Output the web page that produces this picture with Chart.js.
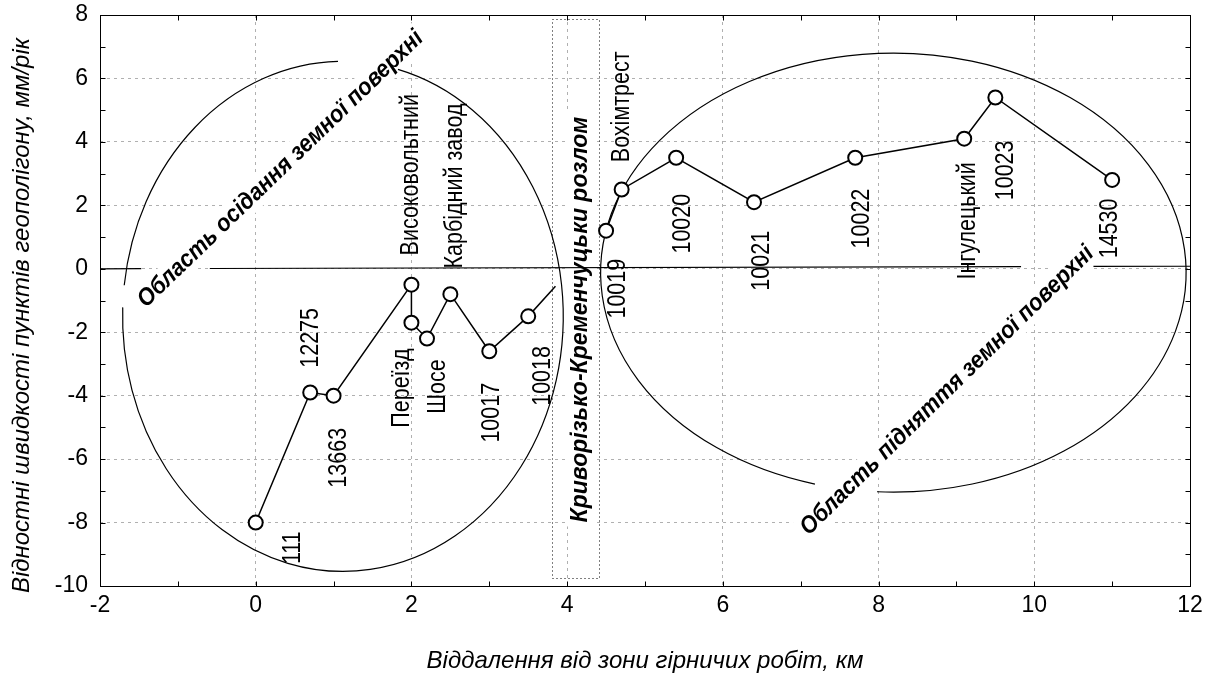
<!DOCTYPE html>
<html>
<head>
<meta charset="utf-8">
<script src="https://cdn.jsdelivr.net/npm/chart.js@4.4.1/dist/chart.umd.min.js"></script>
<style>
  html, body { margin: 0; padding: 0; background: #ffffff; }
  #wrap { width: 1215px; height: 680px; }
</style>
</head>
<body>
<div id="wrap"><canvas id="c" width="1215" height="680"></canvas></div>
<script>
// ---- data ----
const subsidenceX = [0, 0.7, 1, 2, 2, 2.2, 2.5, 3, 3.5, 3.85];
const subsidenceY = [-8, -3.9, -4, -0.5, -1.7, -2.2, -0.8, -2.6, -1.5, -0.55];
const upliftX = [4.5, 4.7, 5.4, 6.4, 7.7, 9.1, 9.5, 11];
const upliftY = [1.2, 2.5, 3.5, 2.1, 3.5, 4.1, 5.4, 2.8];

// near-zero reference line (segments separated by gaps)
const zeroLineX = [-2, -1.47, -1.0, -0.59, 9.83, 10.3, 10.76, 12];
const zeroLineY = [0, 0.003, null, 0.008, 0.068, null, 0.073, 0.08];

// station names (rotated), anchored at the start of the text in data units
const stationNames = ['111', '12275', '13663', 'Переїзд', 'Шосе', 'Високовольтний', 'Карбідний завод',
  '10017', '10018', '10019', 'Вохімтрест', '10020', '10021', '10022', 'Інгулецький', '10023', '14530'];
const stationNameX = [0.48, 0.71, 1.07, 1.88, 2.34, 1.99, 2.56, 3.03, 3.69, 4.65, 4.70, 5.49, 6.50, 7.79, 9.15, 9.64, 10.98];
const stationNameY = [-9.31, -3.12, -6.90, -5.01, -4.57, 0.42, 0.01, -5.48, -4.32, -1.57, 3.36, 0.48, -0.69, 0.64, -0.34, 2.16, 0.33];

// zone captions
const zoneTexts = ['Область осідання земної поверхні', 'Криворізько-Кременчуцьки розлом', 'Область підняття земної поверхні'];
const zoneTextX = [0.32, 4.17, 8.88];
const zoneTextY = [3.14, -1.60, -3.84];
const zoneTextAngle = [-44, -90, -44.5];

// zone outlines (ellipses in data units) and their gaps (parametric angles)
const ellipseCX = [1.12, 8.19];
const ellipseCY = [-1.5, -0.12];
const ellipseRX = [2.83, 3.76];
const ellipseRY = [8.04, 6.92];
const ellipseArcs = [
  [[4.965, 9.460], [3.264, 4.690]],
  [[1.842, 7.910]]
];

// fault zone box
const faultX = [3.80, 4.41];
const faultY = [-9.74, 7.87];

const xTicks = [-2, 0, 2, 4, 6, 8, 10, 12];
const yTicks = [-10, -8, -6, -4, -2, 0, 2, 4, 6, 8];

const xTitle = 'Віддалення від зони гірничих робіт, км';
const yTitle = 'Відностні швидкості пунктів геополігону, мм/рік';

const FONT = "'Liberation Sans', Arial, sans-serif";
const CAPTION_FONT = "italic bold 24px 'Liberation Sans', Arial, sans-serif";
const CAPTION_SQUEEZE = [0.92, 0.96, 0.92];
const NAME_FONT = "25px 'Liberation Sans', Arial, sans-serif";
const NAME_SQUEEZE = 0.86;

const toXY = (xs, ys) => xs.map((x, i) => ({ x: x, y: ys[i] }));

const overlay = {
  id: 'overlay',
  beforeDatasetsDraw(chart) {
    const ctx = chart.ctx, xs = chart.scales.x, ys = chart.scales.y;
    // white masks behind captions (cut the grid)
    ctx.save();
    ctx.font = CAPTION_FONT;
    zoneTexts.forEach((t, i) => {
      const w = ctx.measureText(t).width * CAPTION_SQUEEZE[i];
      ctx.save();
      ctx.translate(xs.getPixelForValue(zoneTextX[i]), ys.getPixelForValue(zoneTextY[i]));
      ctx.rotate(zoneTextAngle[i] * Math.PI / 180);
      ctx.fillStyle = '#ffffff';
      ctx.fillRect(-w / 2 - 4, -14, w + 8, 28);
      ctx.restore();
    });
    ctx.restore();

    // dotted fault box
    ctx.save();
    ctx.strokeStyle = '#000';
    ctx.lineWidth = 1;
    ctx.setLineDash([1, 3]);
    const x0 = xs.getPixelForValue(faultX[0]), x1 = xs.getPixelForValue(faultX[1]);
    const y0 = ys.getPixelForValue(faultY[0]), y1 = ys.getPixelForValue(faultY[1]);
    ctx.strokeRect(Math.round(x0) + 0.5, Math.round(y1) + 0.5, Math.round(x1 - x0), Math.round(y0 - y1));
    ctx.restore();

    // ellipses
    ctx.save();
    ctx.strokeStyle = '#000';
    ctx.lineWidth = 1.2;
    ellipseCX.forEach((cx, i) => {
      const px = xs.getPixelForValue(cx), py = ys.getPixelForValue(ellipseCY[i]);
      const rx = Math.abs(xs.getPixelForValue(cx + ellipseRX[i]) - px);
      const ry = Math.abs(ys.getPixelForValue(ellipseCY[i] + ellipseRY[i]) - py);
      ellipseArcs[i].forEach(a => {
        ctx.beginPath();
        ctx.ellipse(px, py, rx, ry, 0, a[0], a[1]);
        ctx.stroke();
      });
    });
    ctx.restore();
  },
  afterDatasetsDraw(chart) {
    const ctx = chart.ctx, xs = chart.scales.x, ys = chart.scales.y;
    const a = chart.chartArea;
    // station names
    ctx.save();
    ctx.fillStyle = '#000';
    ctx.font = NAME_FONT;
    ctx.textAlign = 'left';
    ctx.textBaseline = 'middle';
    stationNames.forEach((t, i) => {
      ctx.save();
      ctx.translate(xs.getPixelForValue(stationNameX[i]), ys.getPixelForValue(stationNameY[i]));
      ctx.rotate(-Math.PI / 2);
      ctx.scale(NAME_SQUEEZE, 1);
      ctx.fillText(t, 0, 0);
      ctx.restore();
    });
    ctx.restore();

    // zone captions
    ctx.save();
    ctx.fillStyle = '#000';
    ctx.textAlign = 'center';
    ctx.textBaseline = 'middle';
    ctx.font = CAPTION_FONT;
    zoneTexts.forEach((t, i) => {
      ctx.save();
      ctx.translate(xs.getPixelForValue(zoneTextX[i]), ys.getPixelForValue(zoneTextY[i]));
      ctx.rotate(zoneTextAngle[i] * Math.PI / 180);
      ctx.scale(CAPTION_SQUEEZE[i], 1);
      ctx.fillText(t, 0, 0);
      ctx.restore();
    });
    ctx.restore();

    // frame and inward ticks
    ctx.save();
    ctx.strokeStyle = '#000';
    ctx.lineWidth = 1;
    const L = Math.round(a.left) + 0.5, R = Math.round(a.right) + 0.5;
    const T = Math.round(a.top) + 0.5, B = Math.round(a.bottom) + 0.5;
    ctx.strokeRect(L, T, R - L, B - T);
    ctx.beginPath();
    for (let v = xs.min; v <= xs.max; v += 1) {
      const p = Math.round(xs.getPixelForValue(v)) + 0.5;
      ctx.moveTo(p, B); ctx.lineTo(p, B - 5);
      ctx.moveTo(p, T); ctx.lineTo(p, T + 5);
    }
    for (let v = ys.min; v <= ys.max; v += 1) {
      const p = Math.round(ys.getPixelForValue(v)) + 0.5;
      ctx.moveTo(L, p); ctx.lineTo(L + 5, p);
      ctx.moveTo(R, p); ctx.lineTo(R - 5, p);
    }
    ctx.stroke();
    ctx.restore();

    // y-axis title (placed as in the reference, slightly below centre)
    ctx.save();
    ctx.fillStyle = '#000';
    ctx.font = "italic 24px " + FONT;
    ctx.textAlign = 'center';
    ctx.textBaseline = 'middle';
    ctx.translate(22, (a.top + a.bottom) / 2 + 15);
    ctx.rotate(-Math.PI / 2);
    ctx.fillText(yTitle, 0, 0);
    ctx.restore();
  }
};

new Chart(document.getElementById('c'), {
  type: 'scatter',
  data: {
    datasets: [
      {
        data: toXY(subsidenceX, subsidenceY),
        showLine: true,
        borderColor: '#000',
        borderWidth: 1.5,
        pointRadius: subsidenceX.map((_, i) => i === subsidenceX.length - 1 ? 0 : 7),
        pointBackgroundColor: '#fff',
        pointBorderColor: '#000',
        pointBorderWidth: 2,
        order: 1
      },
      {
        data: toXY(upliftX, upliftY),
        showLine: true,
        borderColor: '#000',
        borderWidth: 1.5,
        pointRadius: 7,
        pointBackgroundColor: '#fff',
        pointBorderColor: '#000',
        pointBorderWidth: 2,
        order: 1
      },
      {
        data: toXY(zeroLineX, zeroLineY),
        showLine: true,
        spanGaps: false,
        borderColor: '#000',
        borderWidth: 1.2,
        pointRadius: 0,
        order: 5
      }
    ]
  },
  options: {
    responsive: false,
    animation: false,
    devicePixelRatio: 1,
    layout: { padding: { top: 15, right: 25, left: 0, bottom: 0 } },
    plugins: { legend: { display: false }, tooltip: { enabled: false } },
    scales: {
      x: {
        type: 'linear',
        min: -2, max: 12,
        afterBuildTicks: s => { s.ticks = xTicks.map(v => ({ value: v })); },
        afterFit: s => { s.height = 94; s.paddingLeft = 0; s.paddingRight = 0; },
        grid: { color: '#b0b0b0', lineWidth: 1, drawTicks: false },
        border: { display: false, dash: [3, 4] },
        ticks: { color: '#000', padding: 6, font: { family: FONT, size: 23 } },
        title: {
          display: true,
          text: xTitle,
          color: '#000',
          font: { family: FONT, size: 24, style: 'italic' },
          padding: { top: 18 }
        }
      },
      y: {
        type: 'linear',
        min: -10, max: 8,
        afterBuildTicks: s => { s.ticks = yTicks.map(v => ({ value: v })); },
        afterFit: s => { s.width = 100; s.paddingTop = 0; s.paddingBottom = 0; },
        grid: { color: '#b0b0b0', lineWidth: 1, drawTicks: false },
        border: { display: false, dash: [3, 4] },
        ticks: { color: '#000', padding: 12, font: { family: FONT, size: 23 } },
        title: { display: false }
      }
    }
  },
  plugins: [overlay]
});
</script>
</body>
</html>
